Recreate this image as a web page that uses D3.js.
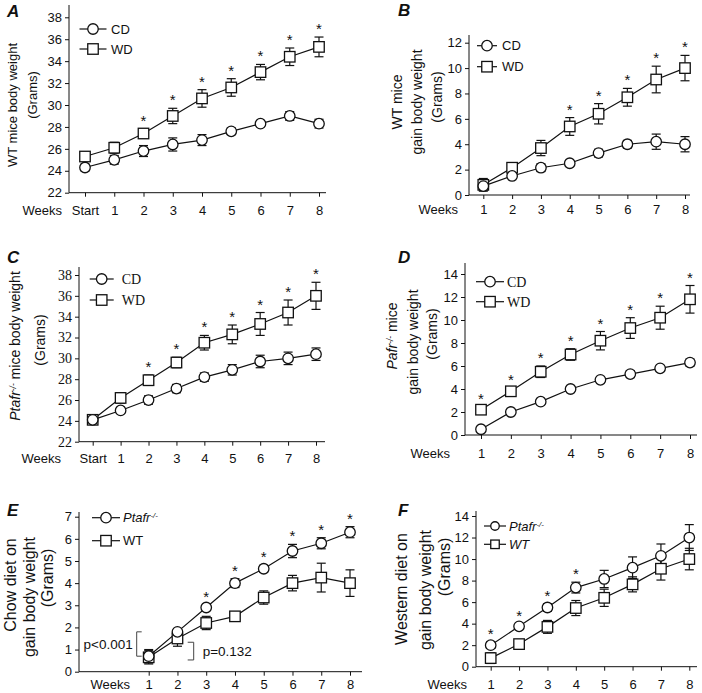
<!DOCTYPE html>
<html>
<head>
<meta charset="utf-8">
<script src="https://cdn.jsdelivr.net/npm/d3@7"></script>
<style>
  body { margin: 0; background: #fff; }
  svg { display: block; }
  text { fill: #111; }
</style>
</head>
<body>
<div id="chart"></div>
<script>
const weeksStart = ['Start', '1', '2', '3', '4', '5', '6', '7', '8'];
const weeks = ['1', '2', '3', '4', '5', '6', '7', '8'];

// A: WT mice body weight
const aCD = [24.3, 25.0, 25.8, 26.4, 26.8, 27.6, 28.3, 29.0, 28.3];
const aCDErr = [0.3, 0.4, 0.5, 0.6, 0.5, 0.3, 0.2, 0.4, 0.4];
const aWD = [25.3, 26.1, 27.4, 29.0, 30.6, 31.6, 33.0, 34.4, 35.3];
const aWDErr = [0.3, 0.5, 0.4, 0.7, 0.8, 0.8, 0.7, 0.8, 0.9];
const aStars = ['2', '3', '4', '5', '6', '7', '8'];
const aTicks = [22, 24, 26, 28, 30, 32, 34, 36, 38];

// B: WT mice gain body weight
const bCD = [0.7, 1.5, 2.15, 2.5, 3.3, 4.0, 4.2, 4.0];
const bCDErr = [0.3, 0.15, 0.3, 0.15, 0.3, 0.3, 0.6, 0.6];
const bWD = [0.8, 2.15, 3.7, 5.4, 6.4, 7.7, 9.1, 10.0];
const bWDErr = [0.5, 0.4, 0.6, 0.7, 0.8, 0.7, 1.05, 1.0];
const bStars = ['4', '5', '6', '7', '8'];
const bTicks = [0, 2, 4, 6, 8, 10, 12];

// C: Ptafr-/- mice body weight
const cCD = [24.1, 25.0, 26.0, 27.1, 28.2, 28.9, 29.7, 30.0, 30.4];
const cCDErr = [0.3, 0.2, 0.4, 0.4, 0.4, 0.5, 0.6, 0.6, 0.6];
const cWD = [24.1, 26.2, 27.9, 29.6, 31.5, 32.3, 33.3, 34.4, 36.0];
const cWDErr = [0.4, 0.5, 0.5, 0.5, 0.7, 0.9, 1.1, 1.2, 1.3];
const cStars = ['2', '3', '4', '5', '6', '7', '8'];
const cTicks = [22, 24, 26, 28, 30, 32, 34, 36, 38];

// D: Pafr-/- mice gain body weight
const dCD = [0.5, 2.0, 2.9, 4.0, 4.8, 5.3, 5.8, 6.3];
const dCDErr = [0.1, 0.2, 0.2, 0.2, 0.2, 0.3, 0.2, 0.3];
const dWD = [2.2, 3.8, 5.5, 7.0, 8.2, 9.3, 10.2, 11.8];
const dWDErr = [0.2, 0.3, 0.5, 0.5, 0.8, 0.9, 1.0, 1.2];
const dStars = ['1', '2', '3', '4', '5', '6', '7', '8'];
const dTicks = [0, 2, 4, 6, 8, 10, 12, 14];

// E: chow diet gain, Ptafr-/- vs WT
const eKO = [0.7, 1.8, 2.9, 4.0, 4.65, 5.45, 5.8, 6.3];
const eKOErr = [0.3, 0.1, 0.1, 0.2, 0.15, 0.3, 0.25, 0.25];
const eWT = [0.65, 1.5, 2.2, 2.5, 3.35, 4.0, 4.25, 4.0];
const eWTErr = [0.3, 0.35, 0.3, 0.2, 0.3, 0.35, 0.65, 0.6];
const eStars = ['3', '4', '5', '6', '7', '8'];
const eTicks = [0, 1, 2, 3, 4, 5, 6, 7];

// F: western diet gain, Ptafr-/- vs WT
const fKO = [2.0, 3.75, 5.5, 7.35, 8.15, 9.2, 10.3, 12.0];
const fKOErr = [0.3, 0.2, 0.35, 0.5, 0.8, 1.0, 1.1, 1.2];
const fWT = [0.8, 2.1, 3.7, 5.45, 6.4, 7.65, 9.1, 10.0];
const fWTErr = [0.5, 0.35, 0.6, 0.7, 0.8, 0.7, 1.05, 1.0];
const fStars = ['1', '2', '3', '4'];
const fTicks = [0, 2, 4, 6, 8, 10, 12, 14];

const sans = 'Liberation Sans, Arial, sans-serif';
const serif = 'Liberation Serif, Times New Roman, serif';

const svg = d3.select('#chart').append('svg')
  .attr('width', 702)
  .attr('height', 693);

function addParts(textSel, parts) {
  parts.forEach(function(p) {
    const t = textSel.append('tspan').text(p.t);
    if (p.italic) t.attr('font-style', 'italic');
    if (p.sup) t.attr('font-size', '0.6em').attr('baseline-shift', '45%');
  });
}

function drawShape(g, shape, cx, cy, size) {
  if (shape === 'circle') {
    g.append('circle')
      .attr('cx', cx).attr('cy', cy).attr('r', size / 2)
      .attr('fill', '#fff').attr('stroke', '#111').attr('stroke-width', 1.3);
  } else {
    g.append('rect')
      .attr('x', cx - size / 2).attr('y', cy - size / 2)
      .attr('width', size).attr('height', size)
      .attr('fill', '#fff').attr('stroke', '#111').attr('stroke-width', 1.3);
  }
}

function drawPanel(cfg) {
  const g = svg.append('g');
  const x = d3.scalePoint().domain(cfg.cats).range(cfg.xRange);
  const y = d3.scaleLinear().domain(cfg.yDomain).range(cfg.yRange);

  // y axis
  const yAxis = g.append('g')
    .attr('transform', 'translate(' + cfg.axisX + ',0)')
    .call(d3.axisLeft(y).tickValues(cfg.yTicks).tickSize(4).tickPadding(3).tickFormat(d3.format('d')));
  yAxis.select('.domain').remove();
  yAxis.selectAll('line').attr('stroke', '#111');
  yAxis.selectAll('text')
    .attr('font-family', cfg.yTickFont || sans)
    .attr('font-size', cfg.yTickSize || 13)
    .attr('fill', '#111');
  g.append('line')
    .attr('x1', cfg.axisX).attr('x2', cfg.axisX)
    .attr('y1', y(cfg.yDomain[0])).attr('y2', cfg.axisTop)
    .attr('stroke', '#111');

  // x axis
  const xAxis = g.append('g')
    .attr('transform', 'translate(0,' + y(cfg.yDomain[0]) + ')')
    .call(d3.axisBottom(x).tickSize(4).tickPadding(cfg.xPad));
  xAxis.select('.domain').remove();
  xAxis.selectAll('line').attr('stroke', '#111');
  xAxis.selectAll('text')
    .attr('font-family', sans)
    .attr('font-size', 13)
    .attr('fill', '#111');
  g.append('line')
    .attr('x1', cfg.axisX).attr('x2', cfg.axisRight)
    .attr('y1', y(cfg.yDomain[0])).attr('y2', y(cfg.yDomain[0]))
    .attr('stroke', '#111');
  g.append('text')
    .attr('x', cfg.weeksX)
    .attr('y', y(cfg.yDomain[0]) + 4 + cfg.xPad)
    .attr('dy', '0.71em')
    .attr('text-anchor', 'end')
    .attr('font-family', sans)
    .attr('font-size', 13)
    .text('Weeks');

  // series lines
  const line = d3.line()
    .x(function(d, i) { return x(cfg.cats[i]); })
    .y(function(d) { return y(d); });
  cfg.series.forEach(function(s) {
    g.append('path')
      .attr('d', line(s.values))
      .attr('fill', 'none')
      .attr('stroke', '#111')
      .attr('stroke-width', 1.2);
  });

  // error bars
  cfg.series.forEach(function(s) {
    s.values.forEach(function(v, i) {
      const cx = x(cfg.cats[i]);
      const top = y(v + s.err[i]);
      const bot = y(v - s.err[i]);
      g.append('line').attr('x1', cx).attr('x2', cx).attr('y1', top).attr('y2', bot)
        .attr('stroke', '#111').attr('stroke-width', 1.2);
      [top, bot].forEach(function(yy) {
        g.append('line').attr('x1', cx - 4.5).attr('x2', cx + 4.5).attr('y1', yy).attr('y2', yy)
          .attr('stroke', '#111').attr('stroke-width', 1.2);
      });
    });
  });

  // markers
  cfg.series.slice().reverse().forEach(function(s) {
    s.values.forEach(function(v, i) {
      drawShape(g, s.shape, x(cfg.cats[i]), y(v), s.shape === 'circle' ? 10.5 : 10.5);
    });
  });

  // significance stars
  const ss = cfg.series[cfg.starSeries];
  cfg.stars.forEach(function(c) {
    const i = cfg.cats.indexOf(c);
    g.append('text')
      .attr('x', x(c))
      .attr('y', y(ss.values[i] + ss.err[i]) - 3)
      .attr('text-anchor', 'middle')
      .attr('font-family', sans)
      .attr('font-size', 15)
      .text('*');
  });

  // legend
  cfg.legend.items.forEach(function(it, k) {
    const lg = cfg.legend;
    const ly = lg.y + k * lg.dy;
    g.append('line')
      .attr('x1', lg.x - lg.half).attr('x2', lg.x + lg.half)
      .attr('y1', ly).attr('y2', ly)
      .attr('stroke', '#111').attr('stroke-width', 1.2);
    drawShape(g, cfg.series[k].shape, lg.x, ly, lg.size);
    const t = g.append('text')
      .attr('x', lg.x + lg.textOff)
      .attr('y', ly)
      .attr('dy', '0.35em')
      .attr('font-family', lg.font)
      .attr('font-size', lg.fontSize);
    addParts(t, it);
  });

  // y title
  cfg.yTitle.forEach(function(l) {
    const t = g.append('text')
      .attr('transform', 'translate(' + l.x + ',' + l.y + ') rotate(-90)')
      .attr('text-anchor', 'middle')
      .attr('dy', '0.35em')
      .attr('font-family', sans)
      .attr('font-size', l.size);
    addParts(t, l.parts);
  });

  // panel letter
  g.append('text')
    .attr('x', cfg.letterX).attr('y', cfg.letterY)
    .attr('font-family', sans)
    .attr('font-size', 17)
    .attr('font-weight', 'bold')
    .attr('font-style', 'italic')
    .text(cfg.letter);

  return {x: x, y: y, g: g};
}

const koLabel = [{t: 'Ptafr', italic: true}, {t: '-/-', italic: true, sup: true}];

drawPanel({
  letter: 'A', letterX: 7, letterY: 17,
  cats: weeksStart, xRange: [85, 319],
  yDomain: [22, 38], yRange: [192.7, 17.3], yTicks: aTicks,
  axisX: 69, axisTop: 5, axisRight: 326, xPad: 9, weeksX: 62,
  series: [
    {values: aCD, err: aCDErr, shape: 'circle'},
    {values: aWD, err: aWDErr, shape: 'square'}
  ],
  starSeries: 1, stars: aStars,
  legend: {x: 93, y: 29, dy: 20, half: 13.5, size: 10.5, textOff: 18, font: sans, fontSize: 13,
    items: [[{t: 'CD'}], [{t: 'WD'}]]},
  yTitle: [
    {x: 12, y: 105, size: 13, parts: [{t: 'WT mice body weight'}]},
    {x: 32, y: 95, size: 13, parts: [{t: '(Grams)'}]}
  ]
});

drawPanel({
  letter: 'B', letterX: 398, letterY: 16,
  cats: weeks, xRange: [483.3, 685],
  yDomain: [0, 12], yRange: [195, 42.7], yTicks: bTicks,
  axisX: 469, axisTop: 35, axisRight: 690, xPad: 6, weeksX: 458,
  series: [
    {values: bCD, err: bCDErr, shape: 'circle'},
    {values: bWD, err: bWDErr, shape: 'square'}
  ],
  starSeries: 1, stars: bStars,
  legend: {x: 487, y: 45.7, dy: 21, half: 10, size: 10.5, textOff: 15, font: sans, fontSize: 13,
    items: [[{t: 'CD'}], [{t: 'WD'}]]},
  yTitle: [
    {x: 397, y: 102, size: 14, parts: [{t: 'WT mice'}]},
    {x: 417, y: 102, size: 14, parts: [{t: 'gain body weight'}]},
    {x: 437, y: 97, size: 14, parts: [{t: '(Grams)'}]}
  ]
});

drawPanel({
  letter: 'C', letterX: 7, letterY: 263,
  cats: weeksStart, xRange: [92.7, 316],
  yDomain: [22, 38], yRange: [441.7, 275], yTicks: cTicks, yTickFont: serif, yTickSize: 14,
  axisX: 79, axisTop: 267, axisRight: 325, xPad: 8.5, weeksX: 61,
  series: [
    {values: cCD, err: cCDErr, shape: 'circle'},
    {values: cWD, err: cWDErr, shape: 'square'}
  ],
  starSeries: 1, stars: cStars,
  legend: {x: 101.7, y: 279, dy: 21, half: 12, size: 10.5, textOff: 20, font: serif, fontSize: 14,
    items: [[{t: 'CD'}], [{t: 'WD'}]]},
  yTitle: [
    {x: 15, y: 346, size: 14, parts: koLabel.concat([{t: ' mice body weight'}])},
    {x: 40, y: 340, size: 14, parts: [{t: '(Grams)'}]}
  ]
});

drawPanel({
  letter: 'D', letterX: 398, letterY: 263,
  cats: weeks, xRange: [481, 690],
  yDomain: [0, 14], yRange: [435, 274], yTicks: dTicks,
  axisX: 465, axisTop: 263, axisRight: 697, xPad: 9.5, weeksX: 450,
  series: [
    {values: dCD, err: dCDErr, shape: 'circle'},
    {values: dWD, err: dWDErr, shape: 'square'}
  ],
  starSeries: 1, stars: dStars,
  legend: {x: 490, y: 281.7, dy: 20, half: 14, size: 10.5, textOff: 17, font: serif, fontSize: 14,
    items: [[{t: 'CD'}], [{t: 'WD'}]]},
  yTitle: [
    {x: 392, y: 336, size: 14, parts: [{t: 'Pafr', italic: true}, {t: '-/-', italic: true, sup: true}, {t: ' mice'}]},
    {x: 413, y: 342, size: 14, parts: [{t: 'gain body weight'}]},
    {x: 432, y: 334, size: 14, parts: [{t: '(Grams)'}]}
  ]
});

const pe = drawPanel({
  letter: 'E', letterX: 7, letterY: 516,
  cats: weeks, xRange: [148.7, 350],
  yDomain: [0, 7], yRange: [671.7, 516.7], yTicks: eTicks,
  axisX: 79, axisTop: 512, axisRight: 362, xPad: 4.5, weeksX: 130,
  series: [
    {values: eKO, err: eKOErr, shape: 'circle'},
    {values: eWT, err: eWTErr, shape: 'square'}
  ],
  starSeries: 0, stars: eStars,
  legend: {x: 106, y: 517.7, dy: 23, half: 14, size: 10.5, textOff: 17, font: sans, fontSize: 13,
    items: [koLabel, [{t: 'WT'}]]},
  yTitle: [
    {x: 10, y: 585, size: 16, parts: [{t: 'Chow diet on'}]},
    {x: 29, y: 597, size: 16, parts: [{t: 'gain body weight'}]},
    {x: 47, y: 578, size: 16, parts: [{t: '(Grams)'}]}
  ]
});

// p-value brackets on panel E (week 1 to week 2)
(function() {
  const x1 = pe.x('1');
  const lTop = pe.y(eKO[1]), lBot = pe.y(eKO[0]);
  const rTop = pe.y(eWT[1] - 0.17), rBot = pe.y(eWT[0] - 0.12);
  const lx = x1 - 12, rx = x1 + 45;
  pe.g.append('path')
    .attr('d', 'M' + (lx + 5) + ',' + lTop + 'H' + lx + 'V' + lBot + 'H' + (lx + 5))
    .attr('fill', 'none').attr('stroke', '#444').attr('stroke-width', 1);
  pe.g.append('path')
    .attr('d', 'M' + (rx - 6) + ',' + rTop + 'H' + rx + 'V' + rBot + 'H' + (rx - 6))
    .attr('fill', 'none').attr('stroke', '#444').attr('stroke-width', 1);
  pe.g.append('text')
    .attr('x', lx - 4).attr('y', (lTop + lBot) / 2).attr('dy', '0.35em')
    .attr('text-anchor', 'end')
    .attr('font-family', sans).attr('font-size', 13.5)
    .text('p<0.001');
  pe.g.append('text')
    .attr('x', rx + 9).attr('y', (rTop + rBot) / 2).attr('dy', '0.35em')
    .attr('font-family', sans).attr('font-size', 13.5)
    .text('p=0.132');
})();

drawPanel({
  letter: 'F', letterX: 398, letterY: 516,
  cats: weeks, xRange: [490.7, 689.3],
  yDomain: [0, 14], yRange: [666.7, 516], yTicks: fTicks,
  axisX: 476, axisTop: 511, axisRight: 697, xPad: 9.5, weeksX: 467,
  series: [
    {values: fKO, err: fKOErr, shape: 'circle'},
    {values: fWT, err: fWTErr, shape: 'square'}
  ],
  starSeries: 0, stars: fStars,
  legend: {x: 495, y: 526, dy: 18.3, half: 11, size: 8.5, textOff: 14, font: sans, fontSize: 13,
    items: [koLabel, [{t: 'WT', italic: true}]]},
  yTitle: [
    {x: 401, y: 589, size: 16, parts: [{t: 'Western diet on'}]},
    {x: 425, y: 590, size: 16, parts: [{t: 'gain body weight'}]},
    {x: 444, y: 567, size: 16, parts: [{t: '(Grams)'}]}
  ]
});
</script>
</body>
</html>
